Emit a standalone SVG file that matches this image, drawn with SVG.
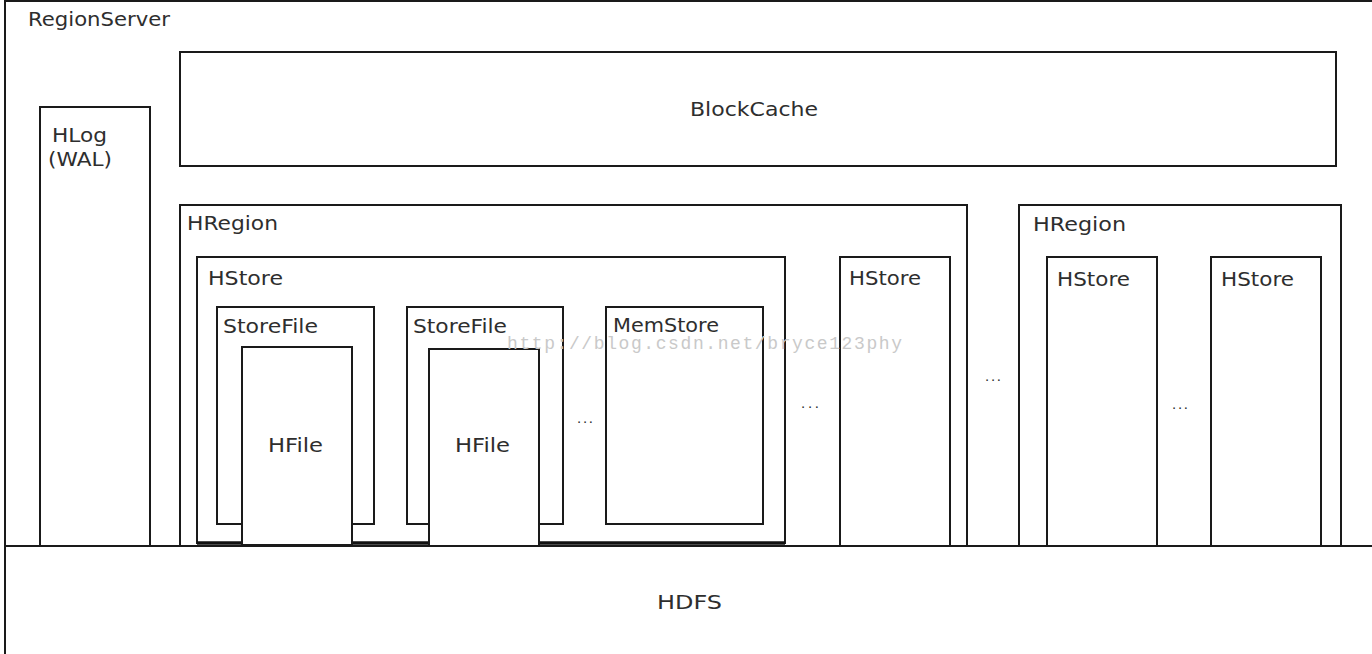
<svg xmlns="http://www.w3.org/2000/svg" width="1372" height="654" viewBox="0 0 1372 654">
<style>
rect.b{fill:none;stroke:#1a1a1a;stroke-width:2}
rect.w{fill:#fff;stroke:#1a1a1a;stroke-width:2}
text{font-family:"DejaVu Sans","Liberation Sans",Arial,sans-serif;font-size:19.5px;fill:#2e2e2e}
text.dots{font-family:"Liberation Sans",Arial,sans-serif;font-size:15px}
text.wm{font-family:"Liberation Mono","Courier New",monospace;font-size:18px;fill:#c9c9c9}
</style>
<rect x="0" y="0" width="1372" height="654" fill="#fff"/>
<g id="regionserver">
<rect class="b" x="5" y="1" width="1380" height="545"/>
<text x="28" y="26" textLength="142" lengthAdjust="spacingAndGlyphs">RegionServer</text>
</g>
<g id="blockcache">
<rect class="b" x="180" y="52" width="1156" height="114"/>
<text x="690" y="116" textLength="128" lengthAdjust="spacingAndGlyphs">BlockCache</text>
</g>
<g id="hlog">
<rect class="b" x="40" y="107" width="110" height="439"/>
<text x="52" y="142" textLength="55" lengthAdjust="spacingAndGlyphs">HLog</text>
<text x="48" y="166" textLength="64" lengthAdjust="spacingAndGlyphs">(WAL)</text>
</g>
<g id="hregion1">
<rect class="b" x="180" y="205" width="787" height="341"/>
<text x="187" y="230" textLength="91" lengthAdjust="spacingAndGlyphs">HRegion</text>
</g>
<g id="hstore1">
<rect class="b" x="197" y="257" width="588" height="286"/>
<line x1="197" y1="543" x2="785" y2="543" stroke="#111" stroke-width="3.5"/>
<text x="208" y="285" textLength="75" lengthAdjust="spacingAndGlyphs">HStore</text>
</g>
<g id="storefile1">
<rect class="b" x="217" y="307" width="157" height="217"/>
<text x="223" y="333" textLength="95" lengthAdjust="spacingAndGlyphs">StoreFile</text>
</g>
<g id="hfile1">
<rect class="w" x="242" y="347" width="110" height="198"/>
<text x="268" y="452" textLength="55" lengthAdjust="spacingAndGlyphs">HFile</text>
</g>
<g id="storefile2">
<rect class="b" x="407" y="307" width="156" height="217"/>
<text x="413" y="333" textLength="94" lengthAdjust="spacingAndGlyphs">StoreFile</text>
</g>
<g id="hfile2">
<rect class="w" x="429" y="349" width="110" height="197"/>
<text x="455" y="452" textLength="55" lengthAdjust="spacingAndGlyphs">HFile</text>
</g>
<g id="dots1"><text class="dots" x="577" y="423" textLength="16" lengthAdjust="spacing">...</text></g>
<g id="memstore">
<rect class="b" x="606" y="307" width="157" height="217"/>
<text x="613" y="332" textLength="106" lengthAdjust="spacingAndGlyphs">MemStore</text>
</g>
<g id="dots2"><text class="dots" x="801" y="408" textLength="18" lengthAdjust="spacing">...</text></g>
<g id="hstore2">
<rect class="b" x="840" y="257" width="110" height="289"/>
<text x="849" y="285" textLength="72" lengthAdjust="spacingAndGlyphs">HStore</text>
</g>
<g id="dots3"><text class="dots" x="985" y="381" textLength="16" lengthAdjust="spacing">...</text></g>
<g id="hregion2">
<rect class="b" x="1019" y="205" width="322" height="341"/>
<text x="1033" y="231" textLength="93" lengthAdjust="spacingAndGlyphs">HRegion</text>
</g>
<g id="hstore3">
<rect class="b" x="1047" y="257" width="110" height="289"/>
<text x="1057" y="286" textLength="73" lengthAdjust="spacingAndGlyphs">HStore</text>
</g>
<g id="dots4"><text class="dots" x="1172" y="409" textLength="16" lengthAdjust="spacing">...</text></g>
<g id="hstore4">
<rect class="b" x="1211" y="257" width="110" height="289"/>
<text x="1221" y="286" textLength="73" lengthAdjust="spacingAndGlyphs">HStore</text>
</g>
<g id="hdfs">
<rect class="b" x="5" y="546" width="1380" height="120"/>
<text x="657" y="609" textLength="65" lengthAdjust="spacingAndGlyphs">HDFS</text>
</g>
<g id="connectors"></g>
<text class="wm" x="507" y="349" textLength="395" lengthAdjust="spacing">http://blog.csdn.net/bryce123phy</text>
</svg>
